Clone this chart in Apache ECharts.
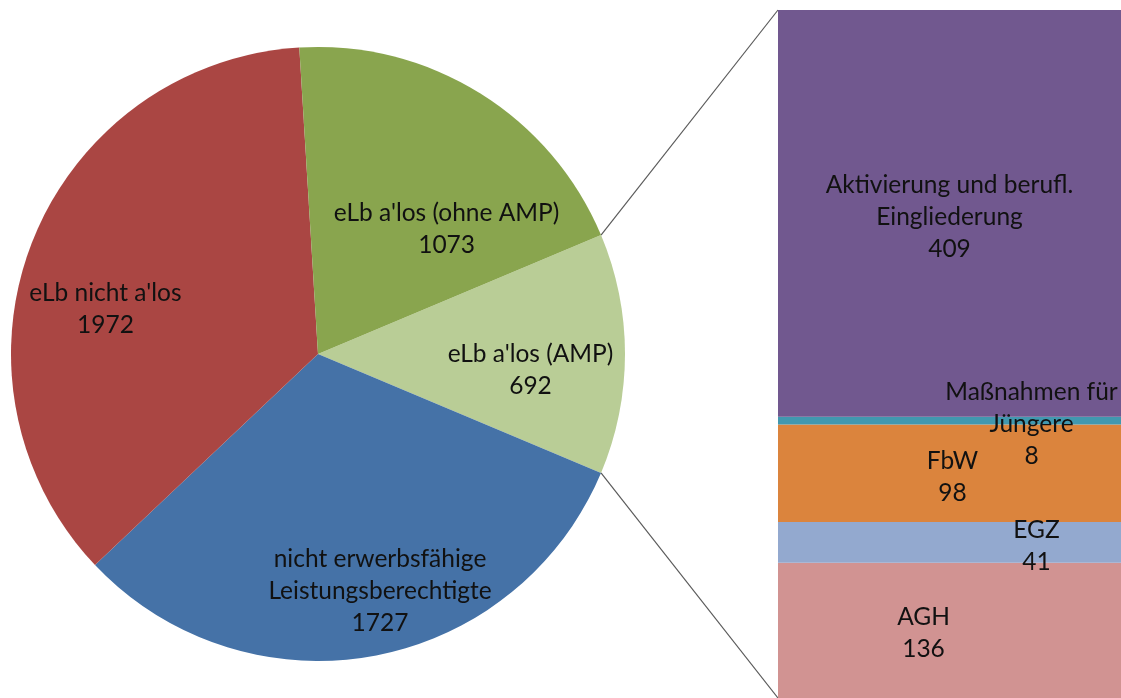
<!DOCTYPE html>
<html><head><meta charset="utf-8">
<script src="https://cdn.jsdelivr.net/npm/echarts@6/dist/echarts.min.js"></script>
<style>html,body{margin:0;padding:0;background:#fff}#c{width:1121px;height:698px}</style>
</head><body><div id="c"></div>
<script>
// ---- data ----
var pieNames = ["eLb a'los (AMP)", "nicht erwerbsfähige\nLeistungsberechtigte", "eLb nicht a'los", "eLb a'los (ohne AMP)"];
var pieValues = [692, 1727, 1972, 1073];
var barNames = ["AGH", "EGZ", "FbW", "Maßnahmen für\nJüngere", "Aktivierung und berufl.\nEingliederung"];
var barValues = [136, 41, 98, 8, 409];

// ---- style / layout ----
var pieColors = ['#B9CD96', '#4572A7', '#AA4643', '#89A54E'];
var barColors = ['#D19392', '#93A9CF', '#DB843D', '#4198AF', '#71588F'];
var pieLabelShift = [[28, 8], [17, 41.5], [-33.5, 6.5], [23, 4]];
var barLabelShift = [[-26, 3], [87, 4], [3, 4], [82, 3], [0, 4]];
var cx = 318, cy = 354, R = 307;
var gridLeft = 778, gridTop = 10, gridH = 688;
var FONT = 'Lato, "Open Sans", sans-serif';
var FS = 24.5, LH = 32;

var total = pieValues.reduce(function(a, b){ return a + b; }, 0);
var startAngle = pieValues[0] / total * 180;
var barTotal = barValues.reduce(function(a, b){ return a + b; }, 0);

var chart = echarts.init(document.getElementById('c'));
var series = [{
  type: 'pie', center: [cx, cy], radius: R, startAngle: startAngle, clockwise: true,
  animation: false, silent: true,
  data: pieNames.map(function(n, i){ return {name: n, value: pieValues[i], itemStyle: {color: pieColors[i]}}; }),
  label: {show: true, position: 'inside', formatter: '{b}\n{c}', color: '#111', fontFamily: FONT, fontSize: FS, lineHeight: LH, align: 'center'},
  labelLine: {show: false},
  labelLayout: function(p){ var s = pieLabelShift[p.dataIndex]; return {dx: s[0], dy: s[1]}; },
  itemStyle: {borderWidth: 0}
}];
barNames.forEach(function(n, i){
  series.push({
    type: 'bar', name: n, stack: 's', xAxisIndex: 0, yAxisIndex: 0, barWidth: '100%',
    animation: false, silent: true,
    data: [barValues[i]],
    itemStyle: {color: barColors[i]},
    label: {show: true, position: 'inside', formatter: '{a}\n{c}', color: '#111', fontFamily: FONT, fontSize: FS, lineHeight: LH, align: 'center', offset: barLabelShift[i]}
  });
});

chart.setOption({
  animation: false,
  grid: {left: gridLeft, top: gridTop, right: 0, height: gridH},
  xAxis: {type: 'category', data: [''], show: false},
  yAxis: {type: 'value', min: 0, max: barTotal, show: false},
  series: series
});

// connector lines from AMP slice edge to bar corners
var a = startAngle * Math.PI / 180;
var pTop = [cx + R * Math.cos(a), cy - R * Math.sin(a)];
var pBot = [cx + R * Math.cos(a), cy + R * Math.sin(a)];
var bTop = chart.convertToPixel({gridIndex: 0}, [0, barTotal]);
var bBot = chart.convertToPixel({gridIndex: 0}, [0, 0]);
chart.setOption({
  graphic: [
    {type: 'line', shape: {x1: pTop[0], y1: pTop[1], x2: gridLeft, y2: bTop[1]}, style: {stroke: '#5a5a5a', lineWidth: 1.2}, silent: true},
    {type: 'line', shape: {x1: pBot[0], y1: pBot[1], x2: gridLeft, y2: bBot[1]}, style: {stroke: '#5a5a5a', lineWidth: 1.2}, silent: true}
  ]
});
</script>
</body></html>
